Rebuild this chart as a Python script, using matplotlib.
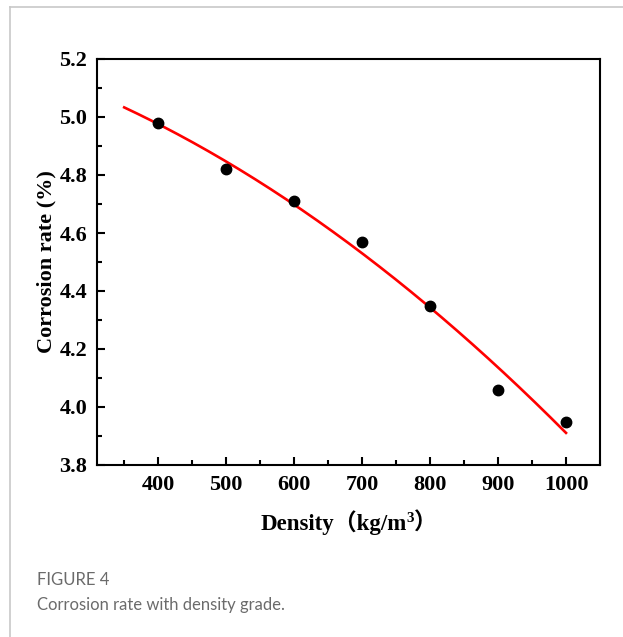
import numpy as np
import matplotlib
matplotlib.use("Agg")
import matplotlib.pyplot as plt
from matplotlib.lines import Line2D
from matplotlib.ticker import MultipleLocator

density = [400, 500, 600, 700, 800, 900, 1000]
corrosion = [4.98, 4.82, 4.71, 4.57, 4.35, 4.06, 3.95]
xticks = [400, 500, 600, 700, 800, 900, 1000]
yticks = [3.8, 4.0, 4.2, 4.4, 4.6, 4.8, 5.0, 5.2]

fig = plt.figure(figsize=(6.23, 6.37), dpi=100)
ax = fig.add_axes([97/623, 1-465/637, (600-97)/623, (465-59)/637])

# quadratic fit of the data
coef = np.polyfit(density, corrosion, 2)
xf = np.linspace(350, 1000, 200)
ax.plot(xf, np.polyval(coef, xf), color='red', lw=1.9, zorder=2)
ax.plot(density, corrosion, 'o', color='black', ms=7.5, zorder=3)

ax.set_xlim(310, 1050)
ax.set_ylim(3.8, 5.2)
ax.set_xticks(xticks)
ax.set_yticks(yticks)
ax.set_yticklabels([f"{v:.1f}" for v in yticks])
ax.xaxis.set_minor_locator(MultipleLocator(50))
ax.yaxis.set_minor_locator(MultipleLocator(0.1))
ax.tick_params(which='both', direction='in', top=False, right=False, width=1.5)
ax.tick_params(which='major', length=6, pad=7)
ax.tick_params(which='minor', length=3.5)
for s in ax.spines.values():
    s.set_linewidth(1.5)
for lab in ax.get_xticklabels() + ax.get_yticklabels():
    lab.set_fontfamily('Liberation Serif')
    lab.set_fontweight('bold')
    lab.set_fontsize(16)

ax.set_ylabel('Corrosion rate (%)', family='Liberation Serif', fontweight='bold', fontsize=16, labelpad=2)

# x label built from chained texts (main text, superscript, closing paren)
fam = ['Liberation Serif', 'Noto Sans CJK SC']
y_lab = 1 - 530/637
t1 = fig.text(0.5, y_lab, 'Density（kg/m', family=fam, fontweight='bold', fontsize=16.5,
              ha='left', va='baseline')
t2 = fig.text(0, 0, '3', family='Liberation Serif', fontweight='bold', fontsize=11,
              ha='left', va='baseline')
t3 = fig.text(0, 0, '）', family=fam, fontweight='bold', fontsize=16.5, ha='left', va='baseline')
fig.canvas.draw()
r = fig.canvas.get_renderer()
W, H = fig.bbox.width, fig.bbox.height
w1 = t1.get_window_extent(r).width
w2 = t2.get_window_extent(r).width
w3 = t3.get_window_extent(r).width
total = w1 + w2 + w3
xc = (ax.get_position().x0 + ax.get_position().x1) / 2 * W
x0 = xc - total / 2
yb = y_lab * H
t1.set_position((x0 / W, y_lab))
t2.set_position(((x0 + w1) / W, (yb + 8) / H))
t3.set_position(((x0 + w1 + w2) / W, y_lab))

# frame border
fig.add_artist(Line2D([10/623, 1], [1-7/637, 1-7/637], color='#c8c8c8', lw=1.2))
fig.add_artist(Line2D([10/623, 10/623], [0, 1-7/637], color='#c8c8c8', lw=1.2))

fig.text(37/623, 1-580/637, 'FIGURE 4', family='Lato', fontsize=12, color='#6b6b6b', va='center', ha='left')
fig.text(37/623, 1-605/637, 'Corrosion rate with density grade.', family='Lato', fontsize=12, color='#6b6b6b', va='center', ha='left')

fig.savefig('out.png', dpi=100)
